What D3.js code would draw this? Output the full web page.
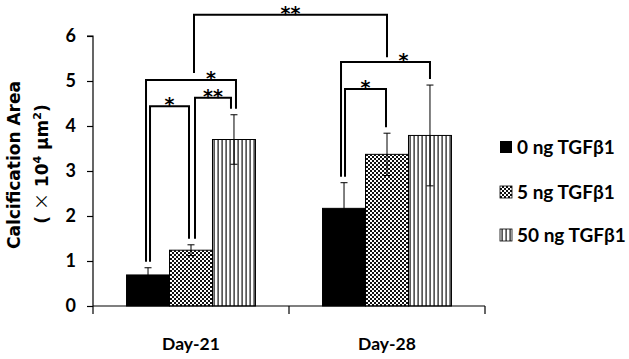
<!DOCTYPE html>
<html>
<head>
<meta charset="utf-8">
<script src="https://cdn.jsdelivr.net/npm/d3@7"></script>
<style>
  body { margin: 0; background: #fff; }
  svg { display: block; }
</style>
</head>
<body>
<div id="chart"></div>
<script>
// Data
const groups = ["Day-21", "Day-28"];
const series = ["0 ng TGFβ1", "5 ng TGFβ1", "50 ng TGFβ1"];
const means = [[0.69, 1.24, 3.70], [2.17, 3.37, 3.79]];
const errors = [[0.16, 0.12, 0.55], [0.57, 0.47, 1.12]];
const yTicks = [0, 1, 2, 3, 4, 5, 6];

// significance brackets: group index + series index on each side, level in data units
const brackets = [
    { from: [0, 0], to: [0, 1], level: 4.44, label: "*", off: [2, -2], dx: 0 },
    { from: [0, 0], to: [0, 2], level: 5.02, label: "*", off: [-2, 2], dx: 20 },
    { from: [0, 1], to: [0, 2], level: 4.63, label: "**", off: [4, -3], dx: 0 },
    { from: [1, 0], to: [1, 2], level: 5.42, label: "*", off: [-3, 0], dx: 18 },
    { from: [1, 0], to: [1, 1], level: 4.82, label: "*", off: [1, -1], dx: 0 },
    { from: [0, 1], to: [1, 1], level: 6.47, label: "**", off: [3, 0], dx: 0, ends: [5.18, 5.53] }
];

const W = 629, H = 359;
const svg = d3.select("#chart").append("svg")
    .attr("width", W)
    .attr("height", H);

svg.append("rect").attr("width", W).attr("height", H).attr("fill", "#fff");

const defs = svg.append("defs");
// checker pattern for 5 ng
const chk = defs.append("pattern").attr("id", "checker")
    .attr("patternUnits", "userSpaceOnUse").attr("width", 4).attr("height", 4);
chk.append("rect").attr("width", 4).attr("height", 4).attr("fill", "#fff");
chk.append("rect").attr("width", 2).attr("height", 2).attr("fill", "#111");
chk.append("rect").attr("x", 2).attr("y", 2).attr("width", 2).attr("height", 2).attr("fill", "#111");
// vertical stripes for 50 ng
const str = defs.append("pattern").attr("id", "stripes")
    .attr("patternUnits", "userSpaceOnUse").attr("width", 4).attr("height", 4);
str.append("rect").attr("width", 4).attr("height", 4).attr("fill", "#fff");
str.append("rect").attr("x", 1.5).attr("width", 1.2).attr("height", 4).attr("fill", "#111");

const fills = ["#000", "url(#checker)", "url(#stripes)"];

// scales
const y = d3.scaleLinear().domain([0, 6]).range([306, 36]);
const x0 = d3.scaleBand().domain(groups).range([93, 485]).padding(0);
const x1 = d3.scaleBand().domain(series).range([0, x0.bandwidth()])
    .paddingInner(0).paddingOuter(0.78);

const fontTxt = "Lato, 'Open Sans', sans-serif";

// y axis
const yAxis = d3.axisLeft(y).tickValues(yTicks).tickFormat(d3.format("d"))
    .tickSize(6).tickPadding(11);
const gy = svg.append("g").attr("transform", "translate(93,0)").call(yAxis);
gy.select(".domain").attr("stroke", "#000").attr("stroke-width", 1.2)
    .attr("d", "M-6," + y(6) + "H0V" + y(0));
gy.selectAll(".tick line").attr("stroke", "#000").attr("stroke-width", 1.2);
gy.selectAll(".tick text")
    .attr("font-family", fontTxt).attr("font-weight", "bold")
    .attr("font-size", 18).attr("fill", "#000");

// bars
const cells = [];
groups.forEach((g, gi) => series.forEach((s, si) => {
    cells.push({ g, s, gi, si, v: means[gi][si], e: errors[gi][si] });
}));

svg.selectAll(".bar")
    .data(cells)
    .enter().append("rect")
    .attr("class", "bar")
    .attr("x", d => x0(d.g) + x1(d.s))
    .attr("y", d => y(d.v))
    .attr("width", x1.bandwidth())
    .attr("height", d => y(0) - y(d.v))
    .attr("fill", d => fills[d.si])
    .attr("stroke", "#000")
    .attr("stroke-width", 1);

// x axis
const xline = svg.append("g");
xline.append("line")
    .attr("x1", x0.range()[0]).attr("x2", x0.range()[1])
    .attr("y1", y(0)).attr("y2", y(0))
    .attr("stroke", "#000").attr("stroke-width", 1.2);
const edges = groups.map(g => x0(g)).concat([x0.range()[1]]);
xline.selectAll(".xt").data(edges).enter().append("line")
    .attr("x1", d => d).attr("x2", d => d)
    .attr("y1", y(0)).attr("y2", y(0) + 8)
    .attr("stroke", "#000").attr("stroke-width", 1.2);
xline.selectAll(".xl").data(groups).enter().append("text")
    .attr("x", d => x0(d) + x0.bandwidth() / 2)
    .attr("y", 350)
    .attr("text-anchor", "middle")
    .attr("font-family", fontTxt).attr("font-weight", "bold")
    .attr("font-size", 17.5)
    .text(d => d);

// error bars
const cx = d => x0(groups[d.gi]) + x1(series[d.si]) + x1.bandwidth() / 2;
const eb = svg.append("g").attr("stroke", "#000").attr("stroke-width", 1);
cells.forEach(d => {
    const c = cx(d);
    eb.append("line").attr("x1", c).attr("x2", c)
        .attr("y1", y(d.v + d.e)).attr("y2", y(d.v - d.e));
    [d.v + d.e, d.v - d.e].forEach(v => {
        eb.append("line").attr("x1", c - 3.5).attr("x2", c + 3.5)
            .attr("y1", y(v)).attr("y2", y(v));
    });
});

// significance brackets
const bg = svg.append("g");
brackets.forEach(b => {
    const ca = cx({ gi: b.from[0], si: b.from[1] }) + b.off[0];
    const cb = cx({ gi: b.to[0], si: b.to[1] }) + b.off[1];
    let ya, yb;
    if (b.ends) {
        ya = y(b.ends[0]);
        yb = y(b.ends[1]);
    } else {
        ya = y(means[b.from[0]][b.from[1]] + errors[b.from[0]][b.from[1]]) - 6;
        yb = y(means[b.to[0]][b.to[1]] + errors[b.to[0]][b.to[1]]) - 6;
    }
    const yl = y(b.level);
    bg.append("path")
        .attr("d", `M${ca},${ya}V${yl}H${cb}V${yb}`)
        .attr("fill", "none").attr("stroke", "#000").attr("stroke-width", 2);
    bg.append("text")
        .attr("x", (ca + cb) / 2 + b.dx)
        .attr("y", yl + 5)
        .attr("text-anchor", "middle")
        .attr("font-family", "'DejaVu Sans', sans-serif")
        .attr("font-weight", "bold")
        .attr("font-size", 19)
        .text(b.label);
});

// legend
const legend = svg.append("g").attr("transform", "translate(500,0)");
const legY = [147, 192, 235];
series.forEach((s, i) => {
    legend.append("rect")
        .attr("x", 0).attr("y", legY[i] - 6)
        .attr("width", 12).attr("height", 12)
        .attr("fill", fills[i])
        .attr("stroke", i === 0 ? "none" : "#000").attr("stroke-width", 0.8);
    legend.append("text")
        .attr("x", 17).attr("y", legY[i] + 7)
        .attr("font-family", fontTxt).attr("font-weight", "bold")
        .attr("font-size", 19)
        .text(s);
});

// y axis title (two lines)
svg.append("text")
    .attr("transform", "translate(20,165) rotate(-90)")
    .attr("text-anchor", "middle")
    .attr("font-family", "'DejaVu Sans', sans-serif")
    .attr("font-weight", "bold")
    .attr("font-size", 17)
    .text("Calcification Area");

const t2 = svg.append("text")
    .attr("transform", "translate(48,164) rotate(-90)")
    .attr("text-anchor", "middle")
    .attr("font-family", "'DejaVu Sans', sans-serif")
    .attr("font-weight", "bold")
    .attr("font-size", 17);
t2.append("tspan").text("( ");
t2.append("tspan").attr("font-family", "'Noto Sans CJK SC'").attr("font-weight", "normal").text("×");
t2.append("tspan").text(" 10");
t2.append("tspan").attr("font-size", 11).attr("dy", -7).text("4");
t2.append("tspan").attr("dy", 7).text(" μm");
t2.append("tspan").attr("font-size", 11).attr("dy", -7).text("2");
t2.append("tspan").attr("dy", 7).text(")");
</script>
</body>
</html>
